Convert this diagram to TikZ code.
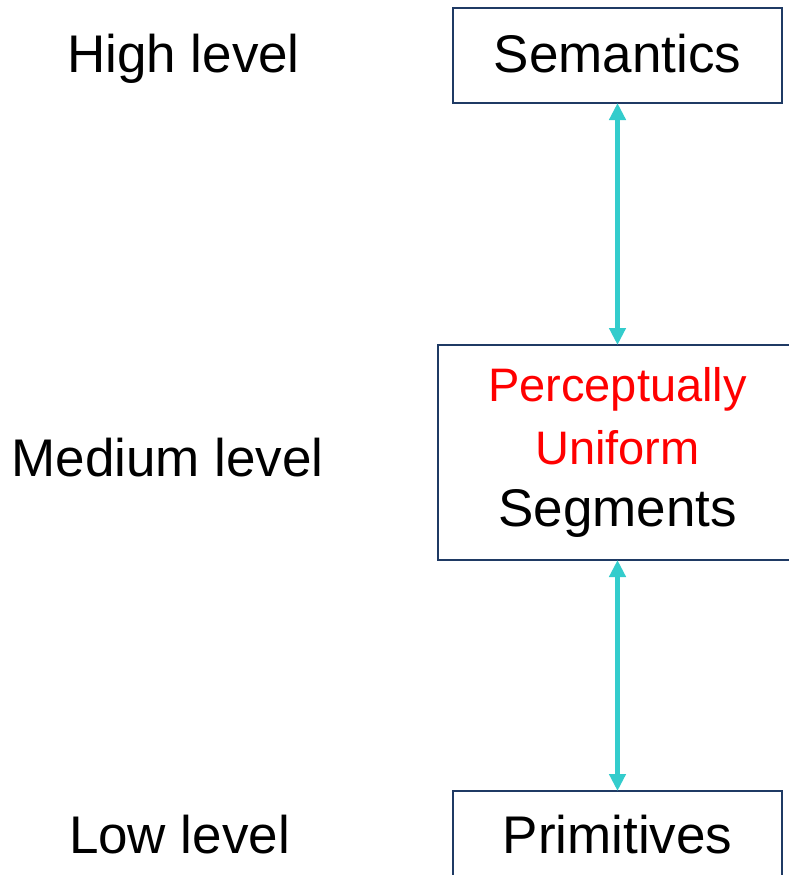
\documentclass[tikz,border=0pt]{standalone}
\usepackage{fontspec}
\setmainfont{Liberation Sans}
\usetikzlibrary{arrows.meta}
\definecolor{boxblue}{HTML}{1F3A64}
\definecolor{arrowcyan}{HTML}{33CCCC}
\newcommand{\redline}[1]{\textcolor{red}{\fontsize{47}{62.5}\selectfont #1}}
\begin{document}
\begin{tikzpicture}[x=1pt,y=-1pt,
  every node/.style={font=\fontsize{53}{62.5}\selectfont, inner sep=0pt, outer sep=0pt},
  levelbox/.style={draw=boxblue, line width=2.5pt, fill=white},
  levellabel/.style={anchor=base},
  linkarrow/.style={draw=arrowcyan, line width=5pt, {Triangle[length=17pt,width=16pt]}-{Triangle[length=17pt,width=16pt]}}
]
\useasboundingbox (0,0) rectangle (789,875);
\clip (0,0) rectangle (789,875);
\fill[white] (0,0) rectangle (789,875);

% boxes
\node[levelbox, minimum width=329pt, minimum height=95pt, text height=33pt, text depth=0pt] (sem) at (617.5,55.5) {Semantics};
\node[levelbox, minimum width=359pt, minimum height=215pt, align=center] (mid) at (617.5,452.5)
  {\redline{Perceptually}\\\redline{Uniform}\\Segments};
\node[levelbox, minimum width=329pt, minimum height=95pt, text height=29pt, text depth=0pt] (prim) at (617.5,838.5) {Primitives};

% level labels
\node[levellabel] (high) at (183.5,72) {High level};
\node[levellabel] (medium) at (167.5,476) {Medium level};
\node[levellabel] (low) at (179.5,853) {Low level};

% connectors
\draw[linkarrow] (sem.south) -- (mid.north);
\draw[linkarrow] (mid.south) -- (prim.north);
\end{tikzpicture}
\end{document}
